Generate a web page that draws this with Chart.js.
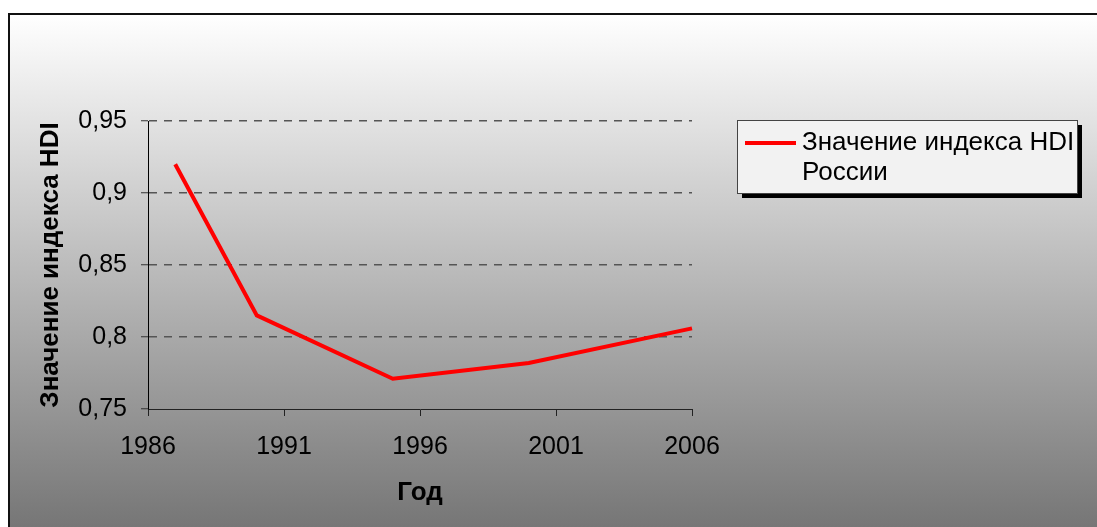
<!DOCTYPE html>
<html>
<head>
<meta charset="utf-8">
<script src="https://cdn.jsdelivr.net/npm/chart.js@4"></script>
<style>
  html, body { margin: 0; padding: 0; background: #fff; }
  canvas { display: block; }
</style>
</head>
<body>
<canvas id="grafico" width="1097" height="527"></canvas>
<script>
// Datos: índice HDI de Rusia por año
const anios = [1987, 1990, 1995, 2000, 2006];
const valoresHDI = [0.920, 0.815, 0.771, 0.782, 0.806];
const etiquetaSerie = "Значение индекса HDI России";
const lineasLeyenda = ["Значение индекса HDI", "России"];
const ticksX = [1986, 1991, 1996, 2001, 2006];
const ticksY = [0.75, 0.8, 0.85, 0.9, 0.95];
const tituloX = "Год";
const tituloY = "Значение индекса HDI";

const fuente = '"Liberation Sans", Arial, sans-serif';

// fondo degradado con marco arriba e izquierda
const fondo = {
  id: "fondo",
  beforeDraw(chart) {
    const { ctx, width, height } = chart;
    ctx.save();
    ctx.fillStyle = "#fff";
    ctx.fillRect(0, 0, width, height);
    const g = ctx.createLinearGradient(0, 14, 0, height);
    g.addColorStop(0, "#ffffff");
    g.addColorStop(1, "#767676");
    ctx.fillStyle = g;
    ctx.fillRect(8, 13, width - 8, height - 13);
    ctx.strokeStyle = "#111";
    ctx.lineWidth = 2;
    ctx.beginPath();
    ctx.moveTo(9, height);
    ctx.lineTo(9, 14);
    ctx.lineTo(width, 14);
    ctx.stroke();
    ctx.restore();
  }
};

// leyenda con sombra, texto en dos líneas
const leyenda = {
  id: "leyenda",
  afterDraw(chart) {
    const { ctx } = chart;
    const ds = chart.data.datasets[0];
    const x = 737, y = 120, w = 340, h = 73;
    ctx.save();
    ctx.fillStyle = "#000";
    ctx.fillRect(x + 5, y + 5, w, h);
    ctx.fillStyle = "#f2f2f2";
    ctx.fillRect(x, y, w, h);
    ctx.strokeStyle = "#444";
    ctx.lineWidth = 1;
    ctx.strokeRect(x + 0.5, y + 0.5, w, h);
    ctx.strokeStyle = ds.borderColor;
    ctx.lineWidth = ds.borderWidth;
    ctx.beginPath();
    ctx.moveTo(x + 8, y + 23);
    ctx.lineTo(x + 59, y + 23);
    ctx.stroke();
    ctx.fillStyle = "#000";
    ctx.font = "26px " + fuente;
    ctx.textBaseline = "middle";
    lineasLeyenda.forEach((t, i) => ctx.fillText(t, x + 65, y + 23 + i * 30));
    ctx.restore();
  }
};

const puntos = anios.map((a, i) => ({ x: a, y: valoresHDI[i] }));

const ctx = document.getElementById("grafico").getContext("2d");
new Chart(ctx, {
  type: "line",
  data: {
    datasets: [{
      label: etiquetaSerie,
      data: puntos,
      borderColor: "#ff0000",
      borderWidth: 4,
      pointRadius: 0,
      tension: 0,
      fill: false,
      clip: 4
    }]
  },
  options: {
    responsive: false,
    animation: false,
    layout: { padding: { top: 121, right: 405, left: 0, bottom: 0 } },
    plugins: {
      legend: { display: false },
      tooltip: { enabled: false }
    },
    scales: {
      x: {
        type: "linear",
        min: ticksX[0],
        max: ticksX[ticksX.length - 1],
        afterBuildTicks: s => { s.ticks = ticksX.map(v => ({ value: v })); },
        afterFit: s => { s.height = 118; },
        ticks: {
          color: "#000",
          font: { family: fuente, size: 25 },
          padding: 16,
          maxRotation: 0,
          autoSkip: false,
          callback: v => String(v)
        },
        grid: { drawOnChartArea: false, tickLength: 7, tickColor: "#222" },
        border: { color: "#222", width: 1 },
        title: {
          display: true,
          text: tituloX,
          color: "#000",
          font: { family: fuente, size: 26, weight: "bold" },
          padding: { top: 0, bottom: 19 }
        }
      },
      y: {
        min: ticksY[0],
        max: ticksY[ticksY.length - 1],
        afterBuildTicks: s => { s.ticks = ticksY.map(v => ({ value: v })); },
        afterFit: s => { s.width = 148; },
        ticks: {
          color: "#000",
          font: { family: fuente, size: 25 },
          padding: 14,
          callback: v => String(+v.toFixed(2)).replace(".", ",")
        },
        grid: {
          color: c => (c.tick && c.tick.value === ticksY[0]) ? "rgba(0,0,0,0)" : "#555",
          lineWidth: 1.5,
          tickLength: 7,
          tickColor: "#333",
          tickWidth: 1
        },
        border: { color: "#000", width: 1, dash: [8, 7] },
        title: {
          display: true,
          text: tituloY,
          color: "#000",
          font: { family: fuente, size: 26, weight: "bold" },
          padding: { top: 35, bottom: 0 }
        }
      }
    }
  },
  plugins: [fondo, leyenda]
});
</script>
</body>
</html>
